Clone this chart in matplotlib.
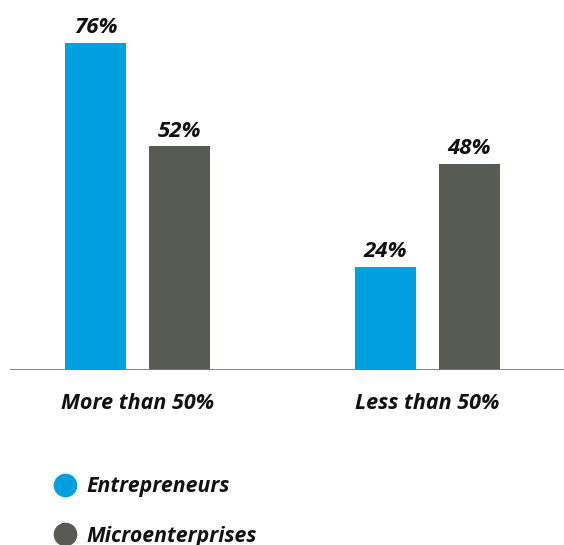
import matplotlib
matplotlib.use("Agg")
import matplotlib.pyplot as plt
from matplotlib.lines import Line2D

categories = ["More than 50%", "Less than 50%"]
series_names = ["Entrepreneurs", "Microenterprises"]
entrepreneurs = [76, 24]
microenterprises = [52, 48]

BLUE = "#009fe0"
GRAY = "#585a54"
TEXT = "#111111"

plt.rcParams["font.family"] = ["Open Sans", "DejaVu Sans"]

W, H = 564, 545
fig = plt.figure(figsize=(W / 100, H / 100), dpi=100)

base_px = 370
ax = fig.add_axes([10 / W, (H - base_px) / H, (W - 10) / W, base_px / H])
ax.set_xlim(-0.4404, 1.473)
ax.set_ylim(0, base_px / 4.3)
for s in ax.spines.values():
    s.set_visible(False)
ax.set_xticks([])
ax.set_yticks([])

width = 0.2107
offset = 0.145
xs = range(len(categories))
for vals, col, sign in ((entrepreneurs, BLUE, -1), (microenterprises, GRAY, 1)):
    pos = [x + sign * offset for x in xs]
    bars = ax.bar(pos, vals, width=width, color=col, zorder=2)
    for b, v in zip(bars, vals):
        ax.annotate(f"{v}%", (b.get_x() + b.get_width() / 2, v),
                    xytext=(0, 3.5), textcoords="offset points",
                    ha="center", va="bottom", fontsize=16,
                    fontweight="bold", fontstyle="italic", color=TEXT)

ax.axhline(0, color="#7a7a7a", lw=1.3, zorder=3)

for x, c in zip(xs, categories):
    ax.annotate(c, (x, 0), xytext=(0, -16.5), textcoords="offset points",
                ha="center", va="top", fontsize=15.5,
                fontweight="bold", fontstyle="italic", color=TEXT)

handles = [Line2D([], [], ls="none", marker="o", markersize=16,
                  markerfacecolor=c, markeredgecolor=c)
           for c in (BLUE, GRAY)]
leg = fig.legend(handles, series_names, loc="upper left",
                 bbox_to_anchor=(54 / W, 1 - 476 / H), frameon=False,
                 handlelength=1.0, handletextpad=0.55, labelspacing=1.35,
                 borderaxespad=0, borderpad=0,
                 prop={"size": 15.3, "weight": "bold", "style": "italic"})
for t in leg.get_texts():
    t.set_color(TEXT)

fig.savefig("out.png", dpi=100)
